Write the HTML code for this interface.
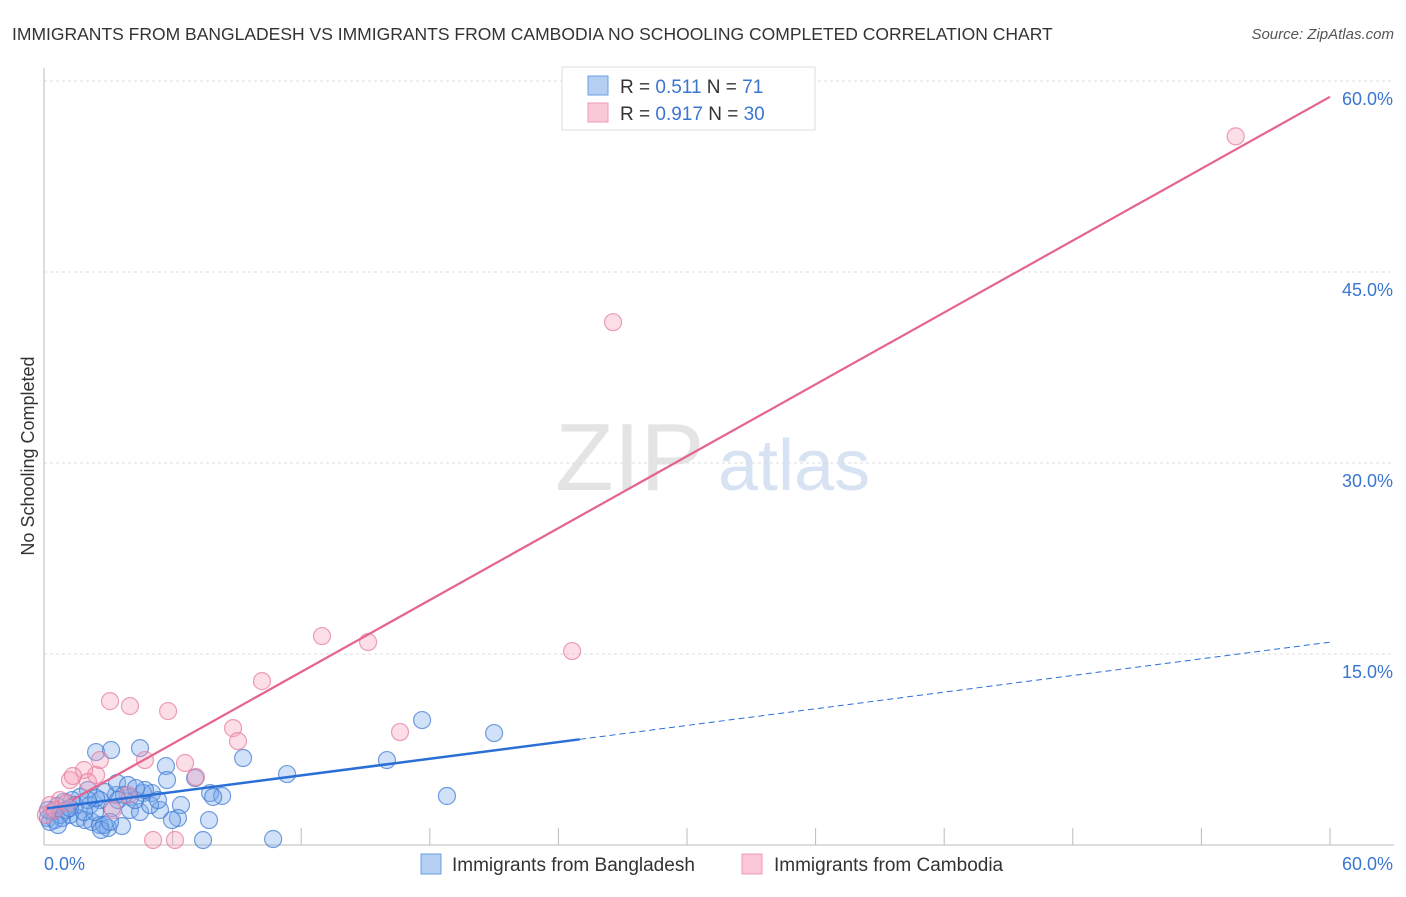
<!DOCTYPE html>
<html><head><meta charset="utf-8"><style>
body{margin:0;background:#fff;font-family:"Liberation Sans",sans-serif;}
svg text{font-family:"Liberation Sans",sans-serif;}
</style></head><body>
<svg id="chart" width="1406" height="892" viewBox="0 0 1406 892">
<text x="12" y="40" font-size="17.5" fill="#333">IMMIGRANTS FROM BANGLADESH VS IMMIGRANTS FROM CAMBODIA NO SCHOOLING COMPLETED CORRELATION CHART</text>
<text x="1394" y="39" font-size="15" fill="#555" font-style="italic" text-anchor="end">Source: ZipAtlas.com</text>
<g>
<text x="555" y="490" font-size="96" fill="#e4e4e4" font-family="Liberation Serif,serif">ZIP</text>
<text x="718" y="490" font-size="72" fill="#d7e3f3">atlas</text>
</g>
<g id="grid"></g>
<g id="axes"></g>
<text transform="translate(34,456) rotate(-90)" font-size="18" fill="#333" text-anchor="middle">No Schooling Completed</text>
<g id="marks"></g>
<g>
<rect x="562" y="67" width="253" height="63" fill="#fff" stroke="#ddd"/>
<rect x="588" y="76" width="20" height="19" fill="#b5cff3" stroke="#6c9fe0"/>
<rect x="588" y="103" width="20" height="19" fill="#fbc8d7" stroke="#ef9ab4"/>
<text x="620" y="93" font-size="19" fill="#333">R = <tspan fill="#3a76d0">0.511</tspan>   N =  <tspan fill="#3a76d0">71</tspan></text>
<text x="620" y="120" font-size="19" fill="#333">R = <tspan fill="#3a76d0">0.917</tspan>   N = <tspan fill="#3a76d0">30</tspan></text>
</g>
<g>
<rect x="421" y="854" width="20" height="20" fill="#b5cff3" stroke="#6c9fe0"/>
<text x="452" y="871" font-size="19" fill="#333">Immigrants from Bangladesh</text>
<rect x="742" y="854" width="20" height="20" fill="#fbc8d7" stroke="#ef9ab4"/>
<text x="774" y="871" font-size="19" fill="#333">Immigrants from Cambodia</text>
</g>
</svg>
<script>
const yTicks=[15,30,45,60];
const yTickLabels=["15.0%","30.0%","45.0%","60.0%"];
const xTicks=[0,6,12,18,24,30,36,42,48,54,60];
const blueX=[2.43,3.13,4.48,5.69,9.29,11.34,17.64,21.0,16.0,18.8,10.69,7.7,7.42,6.39,6.25,5.74,7.05,7.75,8.31,7.89,5.04,4.62,4.01,3.36,2.85,2.05,1.68,1.31,0.93,0.61,0.37,0.19,0.51,0.84,1.21,1.59,1.91,2.24,2.61,2.99,2.8,3.64,4.01,4.48,5.41,4.95,3.41,3.92,2.61,2.15,1.45,1.03,0.75,0.28,2.38,3.17,4.25,4.71,5.97,5.32,2.66,3.08,2.43,2.05,1.21,3.73,4.29,3.45,1.87,0.19,0.65];
const blueY=[7.3,7.46,7.61,6.2,6.83,5.57,9.81,8.79,6.67,3.85,0.47,1.96,0.39,3.14,2.12,5.1,5.26,4.08,3.85,3.77,4.08,4.08,3.77,3.93,4.16,4.32,3.77,3.53,3.38,3.06,2.59,2.12,1.96,2.12,2.36,2.12,1.96,1.81,1.57,1.33,1.57,1.49,2.75,2.59,2.75,3.14,4.87,4.71,3.53,3.14,3.14,2.75,2.36,1.81,2.59,2.9,3.53,4.32,1.96,3.53,1.18,1.81,3.69,3.53,2.9,3.93,4.47,3.53,2.59,2.75,1.57];
const pinkX=[55.6,26.55,12.97,15.12,24.64,10.17,3.08,4.01,5.79,8.82,9.05,16.61,4.71,6.58,7.09,2.61,2.43,1.87,1.21,1.35,2.05,3.92,3.22,0.75,0.28,0.09,5.09,6.11,0.51,1.07];
const pinkY=[55.65,41.06,16.41,15.94,15.23,12.87,11.3,10.91,10.52,9.18,8.16,8.87,6.67,6.44,5.34,6.67,5.5,5.89,5.1,5.42,4.95,3.93,2.75,3.53,3.14,2.36,0.39,0.39,2.75,3.3];
const blueTrend=[0.14,25,60]; // x start, solid end, dashed end
const blueFit=[2.85,0.218]; // intercept, slope
const pinkTrend=[1.3,60];
const pinkFit=[2.3,0.941];

const NS="http://www.w3.org/2000/svg";
const X=v=>44+v/60*1286;
const Y=v=>845-v/15*191;
function mk(tag,attrs,parent){const e=document.createElementNS(NS,tag);for(const k in attrs)e.setAttribute(k,attrs[k]);parent.appendChild(e);return e;}
const grid=document.getElementById('grid'),axes=document.getElementById('axes'),marks=document.getElementById('marks');
yTicks.forEach((t,i)=>{
  const l=mk('line',{x1:44,x2:1394,y1:Y(t),y2:Y(t),stroke:'#ddd','stroke-dasharray':'3,3'},grid);
  
  
  const tx=mk('text',{x:1393,y:Y(t)+24,'font-size':18,fill:'#3a76d0','text-anchor':'end'},axes);
  tx.textContent=yTickLabels[i];
  
  
});
mk('line',{x1:44,x2:44,y1:68,y2:845,stroke:'#bbb'},axes);
mk('line',{x1:44,x2:1394,y1:845,y2:845,stroke:'#bbb'},axes);
xTicks.forEach(t=>{
  const l=mk('line',{x1:X(t),x2:X(t),y1:828,y2:845,stroke:'#bbb'},axes);
  
  
});
const x0=mk('text',{x:44,y:870,'font-size':18,fill:'#3a76d0'},axes);x0.textContent='0.0%';


const x1=mk('text',{x:1393,y:870,'font-size':18,fill:'#3a76d0','text-anchor':'end'},axes);x1.textContent='60.0%';



blueX.forEach((v,i)=>{
  const c=mk('circle',{cx:X(v),cy:Y(blueY[i]),r:8.5,fill:'rgba(120,170,235,0.35)',stroke:'rgba(60,120,210,0.7)','stroke-width':1.2},marks);
  
  
});
pinkX.forEach((v,i)=>{
  const c=mk('circle',{cx:X(v),cy:Y(pinkY[i]),r:8.5,fill:'rgba(245,160,185,0.35)',stroke:'rgba(230,120,155,0.7)','stroke-width':1.2},marks);
  
  
});
const bf=x=>blueFit[0]+blueFit[1]*x, pf=x=>pinkFit[0]+pinkFit[1]*x;
const bl=mk('line',{x1:X(blueTrend[0]),y1:Y(bf(blueTrend[0])),x2:X(blueTrend[1]),y2:Y(bf(blueTrend[1])),stroke:'#2a6fd6','stroke-width':2.5},marks);


const bd=mk('line',{x1:X(blueTrend[1]),y1:Y(bf(blueTrend[1])),x2:X(blueTrend[2]),y2:Y(bf(blueTrend[2])),stroke:'#2a6fd6','stroke-width':1,'stroke-dasharray':'6,4'},marks);


const pl=mk('line',{x1:X(pinkTrend[0]),y1:Y(pf(pinkTrend[0])),x2:X(pinkTrend[1]),y2:Y(pf(pinkTrend[1])),stroke:'#e4648c','stroke-width':2.2},marks);


</script>
</body></html>
